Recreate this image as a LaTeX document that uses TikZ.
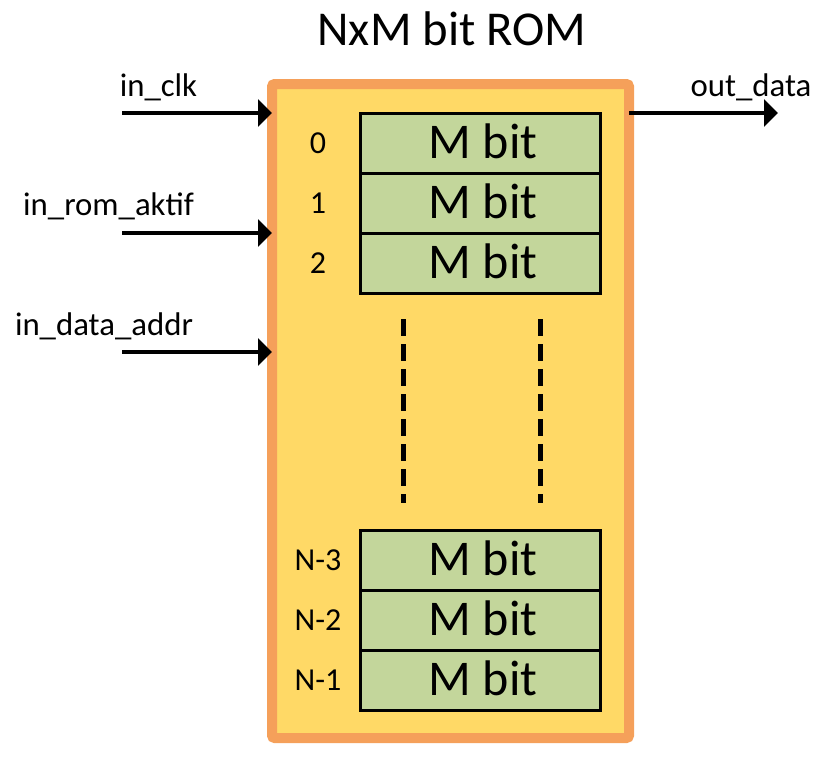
\documentclass[tikz,border=0pt]{standalone}
\usepackage{fontspec}
\setmainfont{Carlito}
\usetikzlibrary{arrows.meta}
\definecolor{romfill}{HTML}{FFD966}
\definecolor{romline}{HTML}{F5A05A}
\definecolor{cellfill}{HTML}{C3D69B}
\tikzset{
  rombox/.style={draw=romline, fill=romfill, line width=7.5pt, rounded corners=2pt,
    outer sep=0pt, inner sep=0pt, minimum width=267.75pt, minimum height=490.5pt},
  cell/.style={draw=black, fill=cellfill, line width=2.25pt, outer sep=0pt, inner sep=0pt,
    minimum width=180pt, minimum height=45pt},
  celltext/.style={anchor=base, inner sep=0pt, font=\fontsize{37.5}{40}\selectfont},
  idx/.style={anchor=base, inner sep=0pt, font=\fontsize{24}{28}\selectfont},
  siglabel/.style={anchor=base, inner sep=0pt, font=\fontsize{24.6}{28}\selectfont},
  title/.style={anchor=base, inner sep=0pt, font=\fontsize{36.5}{40}\selectfont},
  sig/.style={draw=black, line width=3pt, -{Triangle[length=10.5pt, width=20pt]}},
  skip/.style={draw=black, line width=3.75pt, dash pattern=on 12.75pt off 6pt},
}
\begin{document}
\begin{tikzpicture}[x=0.75pt, y=-0.75pt]
  \useasboundingbox (0,0) rectangle (833,761);

  % title
  \node[title] (ttl) at (452,45) {NxM bit ROM};

  % ROM body
  \node[rombox] (rom) at (450.5,411) {};

  % memory words, top group
  \node[cell] (w0) at (480,143) {};
  \node[cell] (w1) at (480,203) {};
  \node[cell] (w2) at (480,263) {};
  % memory words, bottom group
  \node[cell] (wn3) at (480,560) {};
  \node[cell] (wn2) at (480,620) {};
  \node[cell] (wn1) at (480,680) {};

  \foreach \w/\y in {w0/143, w1/203, w2/263, wn3/560, wn2/620, wn1/680}
    \node[celltext] (\w t) at (483,\y+15) {M bit};

  % address indices
  \node[idx] (i0)  at (318,153.5) {0};
  \node[idx] (i1)  at (318,213.5) {1};
  \node[idx] (i2)  at (318,273.5) {2};
  \node[idx] (in3) at (318,570.5) {N-3};
  \node[idx] (in2) at (318,630.5) {N-2};
  \node[idx] (in1) at (318,690.5) {N-1};

  % elided rows
  \draw[skip] (403,319) -- (403,503);
  \draw[skip] (540,319) -- (540,503);

  % ports
  \coordinate (clk)  at (122,113);
  \coordinate (akt)  at (122,233);
  \coordinate (addr) at (122,352);
  \coordinate (dout) at (778,113);

  \node[siglabel] (lclk)  at (158.5,96) {in\_clk};
  \node[siglabel] (lakt)  at (108.5,215) {in\_rom\_aktif};
  \node[siglabel] (laddr) at (104,335) {in\_data\_addr};
  \node[siglabel] (ldout) at (751,96) {out\_data};

  \draw[sig] (clk)  -- (clk -| rom.west);
  \draw[sig] (akt)  -- (akt -| rom.west);
  \draw[sig] (addr) -- (addr -| rom.west);
  \draw[sig] (rom.east |- dout) -- (dout);
\end{tikzpicture}
\end{document}
